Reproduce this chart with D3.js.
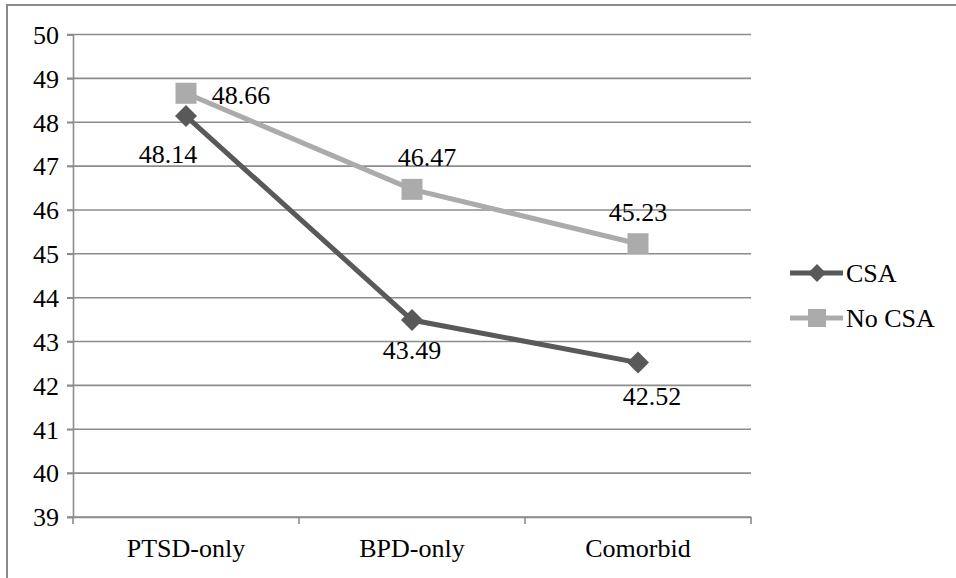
<!DOCTYPE html>
<html><head><meta charset="utf-8">
<script src="https://cdn.jsdelivr.net/npm/d3@7"></script>
<style>body{margin:0;background:#fff}svg{display:block}</style>
</head><body><svg id="c" width="956" height="578"></svg>
<script>
const categories = ["PTSD-only","BPD-only","Comorbid"];
const seriesNames = ["CSA","No CSA"];
const csaValues = [48.14, 43.49, 42.52];
const noCsaValues = [48.66, 46.47, 45.23];
const yTicks = [39,40,41,42,43,44,45,46,47,48,49,50];

const fs = 26;
const FSTYLE = `font-family:"Liberation Serif","Times New Roman",Tinos,serif !important;font-size:${fs}px !important;fill:#000`;
const svg = d3.select("#c");
svg.append("rect").attr("x",7).attr("y",5).attr("width",960).attr("height",600)
  .attr("fill","none").attr("stroke","#8a8a8a").attr("stroke-width",2);

const L=73, R=751, T=34.5, B=517;
const x = d3.scaleBand().domain(categories).range([L,R]);
const y = d3.scaleLinear().domain([39,50]).range([B,T]);
const cx = c => x(c)+x.bandwidth()/2;

function setFont(sel){ sel.attr("style", FSTYLE); }

svg.append("g").selectAll("line").data(yTicks).join("line")
  .attr("x1",L-6).attr("x2",R).attr("y1",d=>y(d)).attr("y2",d=>y(d))
  .attr("stroke","#8c8c8c").attr("stroke-width",1.6);
const ya = svg.append("g").attr("transform",`translate(${L},0)`)
  .call(d3.axisLeft(y).tickValues(yTicks).tickSize(6).tickPadding(8));
ya.attr("font-family", null).attr("font-size", null);
ya.select(".domain").attr("stroke","#8c8c8c").attr("stroke-width",1.6);
ya.selectAll(".tick line").attr("stroke","#8c8c8c").attr("stroke-width",1.6);
ya.selectAll("text").call(setFont).attr("dy","0.34em");
const xa = svg.append("g").attr("transform",`translate(0,${B})`)
  .call(d3.axisBottom(x).tickSize(0).tickPadding(22));
xa.attr("font-family", null).attr("font-size", null);
xa.select(".domain").attr("stroke","#8c8c8c").attr("stroke-width",1.6);
xa.selectAll("text").call(setFont);
svg.append("g").selectAll("line").data([L, ...categories.map(c=>x(c)+x.bandwidth())]).join("line")
  .attr("x1",d=>d).attr("x2",d=>d).attr("y1",B).attr("y2",B+7)
  .attr("stroke","#8c8c8c").attr("stroke-width",1.6);

const dark="#595959", light="#ababab";
const line = d3.line().x((d,i)=>cx(categories[i])).y(d=>y(d));
svg.append("path").datum(noCsaValues).attr("d",line).attr("fill","none").attr("stroke",light).attr("stroke-width",5);
svg.append("path").datum(csaValues).attr("d",line).attr("fill","none").attr("stroke",dark).attr("stroke-width",5);

svg.append("g").selectAll("rect").data(noCsaValues).join("rect")
  .attr("x",(d,i)=>cx(categories[i])-10.5).attr("y",d=>y(d)-10.5)
  .attr("width",21).attr("height",21).attr("fill",light);
const diamond = "M0,-11L11,0L0,11L-11,0Z";
svg.append("g").selectAll("path").data(csaValues).join("path")
  .attr("d",diamond).attr("transform",(d,i)=>`translate(${cx(categories[i])},${y(d)})`).attr("fill",dark);

const csaOff = [[-18,38],[0,30],[14,34]];
const noOff = [[55,2],[15,-32],[0,-32]];
svg.append("g").selectAll("text").data(csaValues).join("text")
  .attr("x",(d,i)=>cx(categories[i])+csaOff[i][0]).attr("y",(d,i)=>y(d)+csaOff[i][1])
  .attr("text-anchor","middle").attr("dy","0.34em").call(setFont).text(d=>d.toFixed(2));
svg.append("g").selectAll("text").data(noCsaValues).join("text")
  .attr("x",(d,i)=>cx(categories[i])+noOff[i][0]).attr("y",(d,i)=>y(d)+noOff[i][1])
  .attr("text-anchor","middle").attr("dy","0.34em").call(setFont).text(d=>d.toFixed(2));

const lg = svg.append("g");
[[seriesNames[0],dark,"d",273],[seriesNames[1],light,"s",318]].forEach(([n,c,m,ly])=>{
  lg.append("line").attr("x1",790).attr("x2",843).attr("y1",ly).attr("y2",ly).attr("stroke",c).attr("stroke-width",5);
  if(m==="d") lg.append("path").attr("d","M0,-9L9,0L0,9L-9,0Z").attr("transform",`translate(817,${ly})`).attr("fill",c);
  else lg.append("rect").attr("x",808).attr("y",ly-9).attr("width",18).attr("height",18).attr("fill",c);
  lg.append("text").attr("x",846).attr("y",ly).attr("dy","0.34em").call(setFont).text(n);
});
</script></body></html>
